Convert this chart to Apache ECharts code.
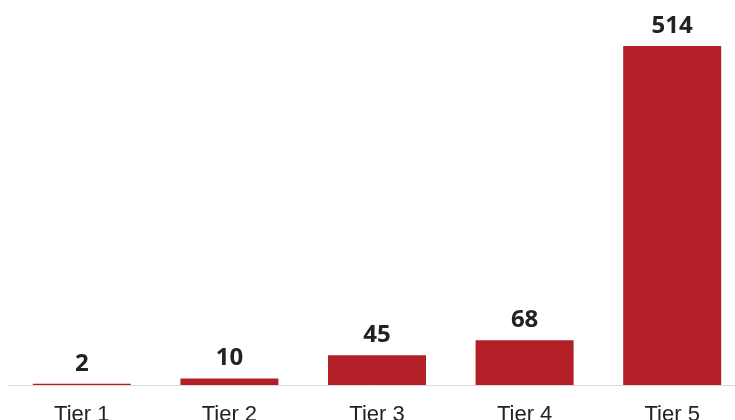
<!DOCTYPE html>
<html style="height: 100%">
<head>
	<meta charset="utf-8">
	<script src="https://cdn.jsdelivr.net/npm/echarts@6/dist/echarts.min.js"></script>
</head>
<body style="height: 100%; margin: 0; background-color: #fff;">
<div id="container" style="width: 735px; height: 420px"></div>
<script type="text/javascript">
	var tiers = ['Tier 1', 'Tier 2', 'Tier 3', 'Tier 4', 'Tier 5'];
	var counts = [2, 10, 45, 68, 514];

	var myChart = echarts.init(document.getElementById('container'));

	var option = {
		animation: false,
		grid: {
			left: 8,
			right: -11,
			top: 46,
			bottom: 35,
			containLabel: false,
			outerBoundsMode: 'none'
		},
		xAxis: {
			type: 'category',
			data: tiers,
			axisLine: {
				lineStyle: { color: '#d9d9d9', width: 1 }
			},
			axisTick: { show: false },
			axisLabel: {
				margin: 19,
				fontFamily: 'Liberation Sans',
				fontSize: 22,
				color: '#222'
			}
		},
		yAxis: {
			type: 'value',
			min: 0,
			max: 514,
			show: false,
			splitLine: { show: false }
		},
		series: [{
			type: 'bar',
			data: counts,
			barWidth: 98,
			itemStyle: { color: '#b31f27' },
			label: {
				show: true,
				position: 'top',
				distance: 8,
				fontFamily: 'Open Sans',
				fontWeight: 'bold',
				fontSize: 24,
				color: '#222'
			}
		}]
	};
	myChart.setOption(option);
</script>
</body>
</html>
